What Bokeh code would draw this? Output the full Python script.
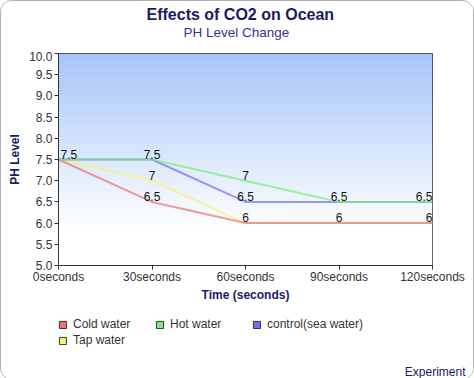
import numpy as np
from bokeh.plotting import figure
from bokeh.layouts import column
from bokeh.models import (Legend, LegendItem, Title, FixedTicker, Range1d, Label,
                          PrintfTickFormatter)
from bokeh.embed import file_html
from bokeh.resources import INLINE

categories = ["0seconds", "30seconds", "60seconds", "90seconds", "120seconds"]
cold_water = [7.5, 6.5, 6.0, 6.0, 6.0]
hot_water = [7.5, 7.5, 7.0, 6.5, 6.5]
control_water = [7.5, 7.5, 6.5, 6.5, 6.5]
tap_water = [7.5, 7.0, 6.0, 6.0, 6.0]
series_names = ["Cold water", "Hot water", "control(sea water)", "Tap water"]
series_colors = ["#f07070", "#78ee78", "#7070f0", "#f4f470"]
y_ticks = [5.0, 5.5, 6.0, 6.5, 7.0, 7.5, 8.0, 8.5, 9.0, 9.5, 10.0]

FONT = "Liberation Sans"
NAVY = "#1a1a66"


def blank(fig):
    fig.title = None
    fig.outline_line_color = None
    fig.background_fill_color = "white"
    fig.border_fill_color = "white"
    fig.xgrid.visible = False
    fig.ygrid.visible = False


# ---- title strip ----
p0 = figure(width=472, height=50, output_backend="svg", toolbar_location=None,
            x_range=Range1d(0, 1), y_range=Range1d(0, 1),
            x_axis_location=None, y_axis_location=None,
            min_border_left=57, min_border_right=41, min_border_top=38, min_border_bottom=0)
blank(p0)
sub = Title(text="PH Level Change", align="left", offset=125, text_font=FONT,
            text_font_size="13.5px", text_font_style="normal", text_color="#333399",
            standoff=0)
main = Title(text="Effects of CO2 on Ocean", align="left", offset=88, text_font=FONT,
             text_font_size="16px", text_font_style="bold", text_color=NAVY,
             standoff=0)
p0.add_layout(sub, "above")
p0.add_layout(main, "above")

# ---- main chart ----
p = figure(frame_width=374, frame_height=212, output_backend="svg", toolbar_location=None,
           x_range=Range1d(0, len(categories) - 1), y_range=Range1d(5, 10),
           min_border_left=57, min_border_right=41, min_border_top=2,
           min_border_bottom=37)
p.title = None
p.background_fill_color = "white"
p.border_fill_color = "white"
p.outline_line_color = "#333333"
p.outline_line_width = 1
p.xgrid.visible = False
p.ygrid.visible = False

# gradient background
H = 200
t = np.linspace(0, 1, H)
ys = 5 + 5 * t
f = np.clip((ys - 5.9) / (10 - 5.9), 0, 1)
top = np.array([166, 198, 248])
rgb = (255 - (255 - top)[None, :] * f[:, None]).astype(np.uint8)
img = np.empty((H, 1), dtype=np.uint32)
view = img.view(dtype=np.uint8).reshape((H, 1, 4))
view[:, 0, 0] = rgb[:, 0]
view[:, 0, 1] = rgb[:, 1]
view[:, 0, 2] = rgb[:, 2]
view[:, 0, 3] = 255
p.image_rgba(image=[img], x=0, y=5, dw=len(categories) - 1, dh=5)

xs = list(range(len(categories)))
all_series = [cold_water, hot_water, control_water, tap_water]
order = [3, 0, 2, 1]
for i in order:
    p.line(xs, all_series[i], line_color=series_colors[i], line_width=2, line_alpha=0.7)

seen = set()
for i in order:
    vals = all_series[i]
    for j, v in enumerate(vals):
        if (j, v) in seen:
            continue
        seen.add((j, v))
        align = "center"
        if j == 0:
            align = "left"
        elif j == len(vals) - 1:
            align = "right"
        p.add_layout(Label(x=j, y=v, text="%g" % v, text_align=align, text_baseline="bottom",
                           x_offset=2 if j == 0 else 0, y_offset=1,
                           text_font=FONT, text_font_size="12px", text_color="#111111"))

p.xaxis.ticker = FixedTicker(ticks=xs)
p.xaxis.major_label_overrides = {i: c for i, c in enumerate(categories)}
p.yaxis.ticker = FixedTicker(ticks=y_ticks)
p.yaxis.formatter = PrintfTickFormatter(format="%.1f")
for ax in (p.xaxis[0], p.yaxis[0]):
    ax.axis_line_color = "#333333"
    ax.major_tick_line_color = "#333333"
    ax.minor_tick_line_color = None
    ax.major_tick_in = 0
    ax.major_tick_out = 4
    ax.major_label_text_font = FONT
    ax.major_label_text_font_size = "12px"
    ax.major_label_text_color = "#333333"
    ax.axis_label_text_font = FONT
    ax.axis_label_text_font_size = "12px"
    ax.axis_label_text_font_style = "bold"
    ax.axis_label_text_color = NAVY
p.xaxis.major_label_standoff = 0
p.yaxis.major_label_standoff = 2
p.xaxis.axis_label = "Time (seconds)"
p.yaxis.axis_label = "PH Level"
p.xaxis.axis_label_standoff = 1
p.yaxis.axis_label_standoff = 4

# ---- legend strip ----
p2 = figure(width=472, height=75, output_backend="svg", toolbar_location=None,
            x_range=Range1d(0, 1), y_range=Range1d(0, 1),
            x_axis_location=None, y_axis_location=None,
            min_border_left=57, min_border_right=41, min_border_top=13, min_border_bottom=0)
blank(p2)

items = []
for name, c in zip(series_names, series_colors):
    r = p2.quad(left=[np.nan], right=[np.nan], top=[np.nan], bottom=[np.nan],
                fill_color=c, line_color="#333333", line_width=1)
    items.append(LegendItem(label=name, renderers=[r]))

legend = Legend(items=items, orientation="horizontal", ncols=3, location="top_left",
                label_text_font=FONT, label_text_font_size="12px",
                label_text_color="#333333", glyph_width=9, glyph_height=9,
                label_standoff=6, spacing=2, label_height=14, label_width=80,
                padding=18, margin=0, border_line_color=None,
                background_fill_alpha=0)
p2.add_layout(legend, "center")

exp = Title(text="Experiment", align="right", text_font=FONT, text_font_size="12px",
            text_font_style="normal", text_color=NAVY, standoff=2, offset=-33)
p2.add_layout(exp, "below")

layout = column(p0, p, p2, spacing=0,
                styles={"border": "1px solid #b0b0b0", "border-radius": "12px",
                        "box-sizing": "border-box", "overflow": "hidden",
                        "background": "white"})

open("out.html", "w").write(file_html(layout, INLINE))
